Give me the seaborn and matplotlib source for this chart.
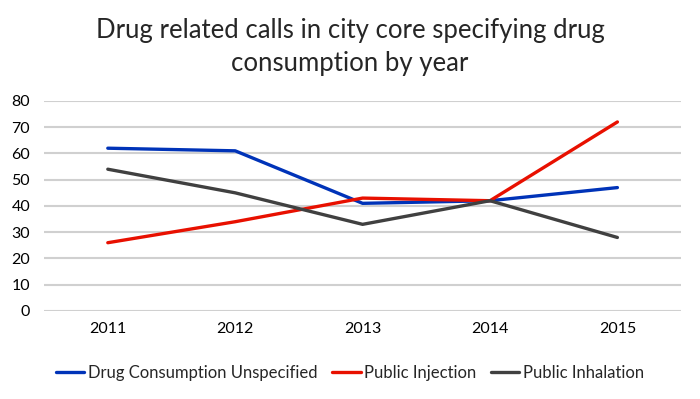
import matplotlib
matplotlib.use("Agg")
import matplotlib.pyplot as plt
import seaborn as sns
import pandas as pd

# data
years = ["2011", "2012", "2013", "2014", "2015"]
unspecified = [62, 61, 41, 42, 47]
injection = [26, 34, 43, 42, 72]
inhalation = [54, 45, 33, 42, 28]

series_names = ["Drug Consumption Unspecified", "Public Injection", "Public Inhalation"]
colors = ["#0033b8", "#e81000", "#404040"]

df = pd.DataFrame({
    "Year": years * 3,
    "Calls": unspecified + injection + inhalation,
    "Series": [n for n in series_names for _ in years],
})

sns.set_theme(style="white")
plt.rcParams["font.family"] = ["Lato", "DejaVu Sans"]

fig = plt.figure(figsize=(7, 3.99), dpi=100)
ax = fig.add_axes([0.063, 0.2206, 0.91, 0.5264])

sns.lineplot(data=df, x="Year", y="Calls", hue="Series", palette=colors,
             linewidth=2.4, ax=ax, sort=False)

ax.set_ylim(0, 80)
ax.set_yticks(range(0, 81, 10))
ax.set_xlim(-0.5, 4.5)
ax.yaxis.grid(True, color="#d0d0d0", linewidth=1.5)
ax.set_axisbelow(True)
for s in ax.spines.values():
    s.set_visible(False)
ax.set_xlabel("")
ax.set_ylabel("")
ax.tick_params(axis="both", labelsize=11.5, colors="#000000", length=0)
ax.tick_params(axis="x", pad=8)
ax.tick_params(axis="y", pad=10)

fig.text(0.5, 0.883, "Drug related calls in city core specifying drug\nconsumption by year",
         ha="center", va="center", fontsize=18.5, linespacing=1.4)

handles, labels = ax.get_legend_handles_labels()
ax.get_legend().remove()
fig.legend(handles, labels, loc="center", bbox_to_anchor=(0.5, 0.065), ncol=3,
           frameon=False, fontsize=12, handlelength=1.7, handletextpad=0.2,
           columnspacing=0.9)

fig.savefig("out.png", dpi=100)
